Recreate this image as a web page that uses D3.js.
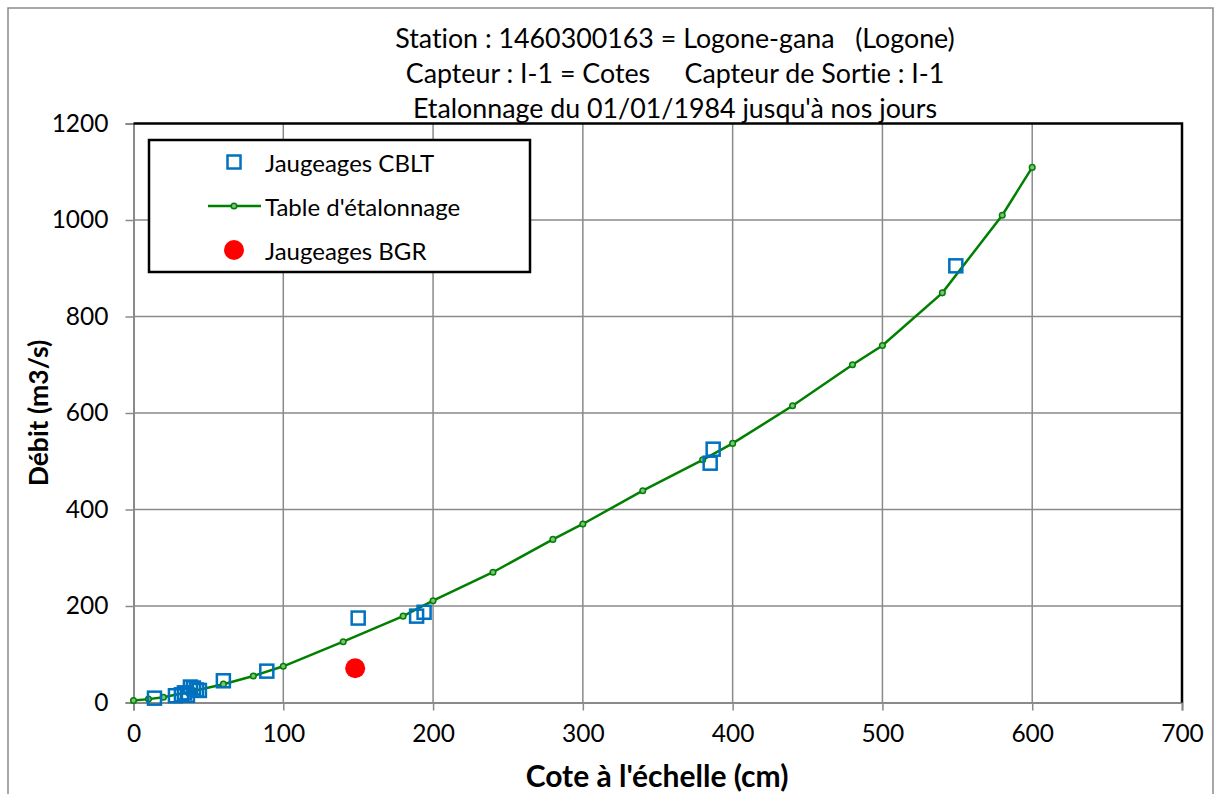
<!DOCTYPE html>
<html>
<head>
<meta charset="utf-8">
<script src="https://cdn.jsdelivr.net/npm/d3@7"></script>
<style>
  body { margin: 0; background: #fff; }
  text { font-family: Lato, "Open Sans", sans-serif; fill: #000; font-variant-ligatures: none; white-space: pre; }
</style>
</head>
<body>
<script>
// rating table (cote cm -> debit m3/s)
var tableCote  = [0, 10, 20, 40, 60, 80, 100, 140, 180, 200, 240, 280, 300, 340, 380, 400, 440, 480, 500, 540, 580, 600];
var tableDebit = [4, 7, 11, 24, 38, 55, 75, 126, 179, 211, 270, 338, 370, 439, 503, 537, 615, 700, 740, 849, 1010, 1109];

// CBLT gaugings
var cbltCote  = [14, 28, 32, 34, 36, 38, 40, 42, 44, 60, 89, 150, 189, 194, 385, 387, 549];
var cbltDebit = [9, 14, 16, 20, 15, 32, 30, 26, 25, 45, 65, 175, 179, 187, 496, 525, 905];

// BGR gauging
var bgrCote  = [148];
var bgrDebit = [71];

var xTicks = [0, 100, 200, 300, 400, 500, 600, 700];
var yTicks = [0, 200, 400, 600, 800, 1000, 1200];

var titleLines = [
  "Station : 1460300163 = Logone-gana   (Logone)",
  "Capteur : I-1 = Cotes     Capteur de Sortie : I-1",
  "Etalonnage du 01/01/1984 jusqu'à nos jours"
];

var width = 1217, height = 794;
var svg = d3.select("body").append("svg")
    .attr("width", width)
    .attr("height", height)
    .style("background-color", "#fff");

var pLeft = 133.5, pRight = 1182, pTop = 123.5, pBottom = 702.5;
var x = d3.scaleLinear().domain([0, 700]).range([pLeft, pRight]);
var y = d3.scaleLinear().domain([0, 1200]).range([pBottom, pTop]);

var grid = "#8a8a8a";

// outer chart border
svg.append("rect")
    .attr("x", 8).attr("y", 8)
    .attr("width", 1205).attr("height", 800)
    .attr("fill", "none")
    .attr("stroke", grid)
    .attr("stroke-width", 1.5);

// gridlines
svg.append("g").selectAll("line").data(xTicks.slice(1, -1)).join("line")
    .attr("x1", d => x(d)).attr("x2", d => x(d))
    .attr("y1", pTop).attr("y2", pBottom)
    .attr("stroke", grid).attr("stroke-width", 1.5);
svg.append("g").selectAll("line").data(yTicks.slice(1, -1)).join("line")
    .attr("x1", pLeft).attr("x2", pRight)
    .attr("y1", d => y(d)).attr("y2", d => y(d))
    .attr("stroke", grid).attr("stroke-width", 1.5);

// axes
var xAxis = svg.append("g")
    .attr("transform", "translate(0," + pBottom + ")")
    .call(d3.axisBottom(x).tickValues(xTicks).tickSize(8).tickPadding(14).tickFormat(d3.format("d")));
var yAxis = svg.append("g")
    .attr("transform", "translate(" + pLeft + ",0)")
    .call(d3.axisLeft(y).tickValues(yTicks).tickSize(8).tickPadding(17).tickFormat(d3.format("d")));

[xAxis, yAxis].forEach(function(a){
  a.select(".domain").attr("stroke", grid).attr("stroke-width", 2);
  a.selectAll(".tick line").attr("stroke", grid).attr("stroke-width", 1.5);
  a.selectAll(".tick text")
    .style("font-family", "Lato, sans-serif")
    .attr("font-size", 24.5)
    .attr("fill", "#000");
});

// top & right frame in black
svg.append("path")
    .attr("d", "M" + pLeft + "," + pTop + "H" + pRight + "V" + pBottom)
    .attr("fill", "none")
    .attr("stroke", "#000")
    .attr("stroke-width", 2.5);

// rating curve
var table = tableCote.map((c, i) => [c, tableDebit[i]]);
svg.append("path")
    .datum(table)
    .attr("d", d3.line().x(d => x(d[0])).y(d => y(d[1])))
    .attr("fill", "none")
    .attr("stroke", "#008000")
    .attr("stroke-width", 2.5);
svg.append("g").selectAll("circle").data(table).join("circle")
    .attr("cx", d => x(d[0])).attr("cy", d => y(d[1]))
    .attr("r", 2.8)
    .attr("fill", "#7fbf7f")
    .attr("stroke", "#008000")
    .attr("stroke-width", 1.5);

// CBLT squares
var sq = 13;
var cblt = cbltCote.map((c, i) => [c, cbltDebit[i]]);
svg.append("g").selectAll("rect").data(cblt).join("rect")
    .attr("x", d => x(d[0]) - sq / 2).attr("y", d => y(d[1]) - sq / 2)
    .attr("width", sq).attr("height", sq)
    .attr("fill", "none")
    .attr("stroke", "#0070c0")
    .attr("stroke-width", 2.5);

// BGR circles
var bgr = bgrCote.map((c, i) => [c, bgrDebit[i]]);
svg.append("g").selectAll("circle").data(bgr).join("circle")
    .attr("cx", d => x(d[0])).attr("cy", d => y(d[1]))
    .attr("r", 10)
    .attr("fill", "#ff0000");

// title
svg.append("g").selectAll("text").data(titleLines).join("text")
    .attr("x", 675)
    .attr("y", (d, i) => 38 + i * 35)
    .attr("text-anchor", "middle")
    .attr("dominant-baseline", "central")
    .attr("font-size", 26.8)
    .text(d => d);

// axis titles
svg.append("text")
    .attr("x", 657).attr("y", 775)
    .attr("text-anchor", "middle")
    .attr("dominant-baseline", "central")
    .attr("font-size", 30)
    .attr("font-weight", "bold")
    .text("Cote à l'échelle (cm)");
svg.append("text")
    .attr("transform", "translate(38,413) rotate(-90)")
    .attr("text-anchor", "middle")
    .attr("dominant-baseline", "central")
    .attr("font-size", 26.5)
    .attr("font-weight", "bold")
    .text("Débit (m3/s)");

// legend
var lg = svg.append("g");
lg.append("rect")
    .attr("x", 149).attr("y", 140)
    .attr("width", 381).attr("height", 132)
    .attr("fill", "#fff")
    .attr("stroke", "#000")
    .attr("stroke-width", 2.5);
var mx = 234, tx = 265;
lg.append("rect")
    .attr("x", mx - 6.5).attr("y", 162 - 6.5)
    .attr("width", 13).attr("height", 13)
    .attr("fill", "none").attr("stroke", "#0070c0").attr("stroke-width", 2.5);
lg.append("line")
    .attr("x1", 208).attr("x2", 261).attr("y1", 206).attr("y2", 206)
    .attr("stroke", "#008000").attr("stroke-width", 2.5);
lg.append("circle")
    .attr("cx", mx).attr("cy", 206).attr("r", 2.8)
    .attr("fill", "#7fbf7f").attr("stroke", "#008000").attr("stroke-width", 1.5);
lg.append("circle")
    .attr("cx", mx).attr("cy", 250).attr("r", 10)
    .attr("fill", "#ff0000");
lg.selectAll("text").data(["Jaugeages CBLT", "Table d'étalonnage", "Jaugeages BGR"]).join("text")
    .attr("x", tx)
    .attr("y", (d, i) => 162 + i * 44)
    .attr("dominant-baseline", "central")
    .attr("font-size", 24)
    .text(d => d);
</script>
</body>
</html>
